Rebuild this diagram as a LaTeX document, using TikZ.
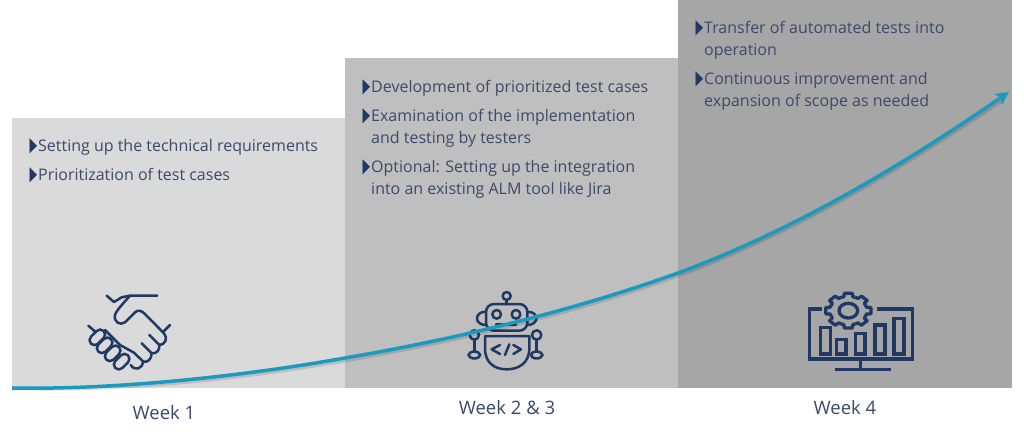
\documentclass[tikz,border=0pt]{standalone}
\usepackage{fontspec}
\usepackage{graphicx}
\setmainfont{Open Sans}
\newfontfamily\symfont{DejaVu Sans}
\usetikzlibrary{arrows.meta}
\definecolor{boxa}{HTML}{DADADA}
\definecolor{boxb}{HTML}{BFBFBF}
\definecolor{boxc}{HTML}{A6A6A6}
\definecolor{txtc}{HTML}{3B4A6B}
\definecolor{navy}{HTML}{1F3864}
\definecolor{curvec}{HTML}{1B9AC0}
\newcommand{\bul}{\llap{\smash{\textcolor{navy}{\symfont\scalebox{0.62}[1.25]{▶}}}\hspace{1pt}}}
\tikzset{
  stage/.style={draw=none,inner sep=0,anchor=north west},
  item/.style={inner sep=0,anchor=north west,align=left,text=txtc,font=\fontsize{16}{22}\selectfont},
  week/.style={inner sep=0,anchor=base,text=txtc,font=\fontsize{18.5}{22}\selectfont},
  icon/.style={draw=navy,line width=2.5pt,line cap=round,line join=round,fill=none},
  iconb/.style={draw=navy,line width=3.3pt,line join=miter,fill=none},
}
\begin{document}
\begin{tikzpicture}[x=1pt,y=-1pt]
\useasboundingbox (0,0) rectangle (1024,437);
\fill[white] (0,0) rectangle (1024,437);
\node[stage,fill=boxa,minimum width=333pt,minimum height=270pt] (s1) at (12,118) {};
\node[stage,fill=boxb,minimum width=333pt,minimum height=330pt] (s2) at (345,58) {};
\node[stage,fill=boxc,minimum width=334pt,minimum height=388pt] (s3) at (678,0) {};

\node[item] (a1) at (38,139) {\bul Setting up the technical requirements};
\node[item] (a2) at (38,168) {\bul Prioritization of test cases};
\node[item] (b1) at (371,80) {\bul Development of prioritized test cases};
\node[item] (b2) at (371,109) {\bul Examination of the implementation\\and testing by testers};
\node[item] (b3) at (371,160) {\bul Optional: Setting up the integration\\into an existing ALM tool like Jira};
\node[item] (c1) at (704,21) {\bul Transfer of automated tests into\\operation};
\node[item] (c2) at (704,72) {\bul Continuous improvement and\\expansion of scope as needed};

\node[week] (w1) at (164,419) {Week 1};
\node[week] (w2) at (507,414) {Week 2 \& 3};
\node[week] (w3) at (845,414) {Week 4};

% handshake
\begin{scope}[shift={(60,280)},x=0.3333pt,y=-0.3333pt]
\draw[icon] (140,47) -- (162,66) -- (185,52) -- (210,47) -- (292,47);
\draw[icon] (210,47) .. controls (190,70) and (170,90) .. (165,105) .. controls (160,125) and (180,138) .. (195,127) -- (225,97) .. controls (235,88) and (245,92) .. (255,102) -- (312,160) .. controls (325,175) and (315,195) .. (298,195) .. controls (300,210) and (290,222) .. (275,220) .. controls (275,238) and (262,248) .. (250,245) .. controls (248,265) and (225,275) .. (212,255);
\draw[icon] (330,135) -- (308,157);
\draw[icon] (298,195) -- (268,165);
\draw[icon] (275,220) -- (245,190);
\draw[icon] (250,245) -- (222,218);
\draw[icon] (85,137) -- (108,157);
\draw[icon] (135,150) -- (180,195) -- (222,218);
\foreach \px/\py in {112/172,134/196,158/220,185/245}
  \draw[icon,rounded corners=5pt,shift={(\px,\py)},rotate=45] (-27,-15) rectangle (27,15);
\end{scope}

% robot
\begin{scope}[shift={(450,280)},x=0.3333pt,y=-0.3333pt]
\draw[icon] (170,48) circle[radius=12];
\draw[icon] (170,60) -- (170,72);
\draw[icon,rounded corners=8pt] (108,72) rectangle (232,152);
\draw[icon] (108,95) .. controls (72,95) and (72,135) .. (108,135);
\draw[icon] (232,95) .. controls (268,95) and (268,135) .. (232,135);
\draw[icon] (140,103) circle[radius=13];
\draw[icon] (198,103) circle[radius=13];
\draw[icon] (138,133) -- (198,133);
\draw[icon] (105,168) -- (238,168) -- (238,205) .. controls (238,250) and (205,268) .. (170,268) .. controls (135,268) and (105,250) .. (105,205) -- cycle;
\draw[icon] (73,165) circle[radius=14];
\draw[icon] (73,179) -- (73,215);
\draw[icon,rounded corners=4pt] (56,215) rectangle (90,235);
\draw[icon] (260,165) circle[radius=14];
\draw[icon] (260,179) -- (260,215);
\draw[icon,rounded corners=4pt] (243,215) rectangle (277,235);
\draw[icon] (150,195) -- (125,208) -- (150,222);
\draw[icon] (165,225) -- (178,193);
\draw[icon] (190,195) -- (213,208) -- (190,222);
\end{scope}

% monitor
\begin{scope}[shift={(790,280)},x=0.3333pt,y=-0.3333pt]
\draw[iconb] (95,87) -- (58,87) -- (58,237) -- (367,237) -- (367,87) -- (260,87);
\draw[iconb] (212,237) -- (212,268);
\draw[iconb] (135,268) -- (303,268);
\draw[iconb] (92,142) rectangle (122,222);
\draw[iconb] (140,178) rectangle (168,222);
\draw[iconb] (197,160) rectangle (225,222);
\draw[iconb] (255,135) rectangle (285,222);
\draw[iconb] (312,115) rectangle (342,222);
\fill[boxc] (175,92) ellipse[x radius=70,y radius=54];
\begin{scope}[shift={(175,92)},xscale=1.3]
\foreach \a in {0,45,...,315}
  \draw[iconb,line join=round] (\a-22.5:43) -- (\a-14:43) -- (\a-10:53) -- (\a+10:53) -- (\a+14:43) -- (\a+22.5:43);
\end{scope}
\draw[iconb] (175,92) ellipse[x radius=28,y radius=22];
\end{scope}

% curve
\coordinate (cs) at (12,388);
\coordinate (ce) at (1009,92);
\draw[black,opacity=.13,line width=3.5pt,shift={(0.5,2.5)}] (cs) .. controls (120,390) and (250,375) .. (345,358) .. controls (450,340) and (570,312) .. (678,273) .. controls (800,228) and (910,160) .. (1003,97);
\draw[curvec,line width=3.5pt,-{Stealth[length=13pt,width=13pt,inset=3pt]}] (cs) .. controls (120,390) and (250,375) .. (345,358) .. controls (450,340) and (570,312) .. (678,273) .. controls (800,228) and (910,160) .. (ce);
\end{tikzpicture}
\end{document}
